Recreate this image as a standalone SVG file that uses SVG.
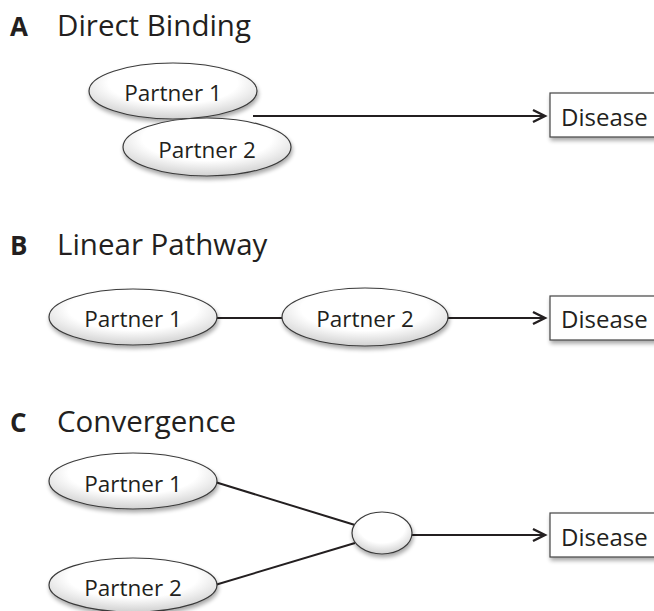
<svg xmlns="http://www.w3.org/2000/svg" width="654" height="611" viewBox="0 0 654 611">
<style>
.title{font-family:"Open Sans","Noto Sans",sans-serif;font-size:29.5px;fill:#231f20}
.letter{font-family:"Open Sans","Noto Sans",sans-serif;font-size:26px;font-weight:bold;fill:#231f20}
.lbl{font-family:"Open Sans","Noto Sans",sans-serif;font-size:22.5px;fill:#231f20;text-anchor:middle}
.dis{font-family:"Open Sans","Noto Sans",sans-serif;font-size:24px;fill:#231f20}
.node{fill:url(#eg);stroke:#3a3a3a;stroke-width:1.2;filter:url(#sh)}
.box{fill:#fff;stroke:#444;stroke-width:1.2;filter:url(#sh)}
.edge{stroke:#231f20;stroke-width:2;fill:none}
.arrow{marker-end:url(#ah)}
</style>
<defs>
<radialGradient id="eg" cx="0.5" cy="0.35" r="0.7">
<stop offset="0.55" stop-color="#ffffff"/>
<stop offset="1" stop-color="#c8c8c8"/>
</radialGradient>
<filter id="sh" x="-20%" y="-20%" width="140%" height="160%">
<feGaussianBlur in="SourceAlpha" stdDeviation="2"/>
<feOffset dx="1" dy="3" result="b"/>
<feComponentTransfer><feFuncA type="linear" slope="0.35"/></feComponentTransfer>
<feMerge><feMergeNode/><feMergeNode in="SourceGraphic"/></feMerge>
</filter>
<marker id="ah" markerWidth="18" markerHeight="16" refX="15" refY="8" orient="auto" markerUnits="userSpaceOnUse">
<path d="M3,2 L15,8 L3,14" fill="none" stroke="#231f20" stroke-width="2.4"/>
</marker>
</defs>

<g id="titles">
<text class="letter" x="10" y="36">A</text>
<text class="title" x="57" y="36">Direct Binding</text>
<text class="letter" x="10" y="255">B</text>
<text class="title" x="57" y="255">Linear Pathway</text>
<text class="letter" x="10" y="432">C</text>
<text class="title" x="57" y="432">Convergence</text>
</g>

<g id="connectors">
<line class="edge arrow" x1="253" y1="116" x2="545" y2="116"/>
<line class="edge" x1="217" y1="318" x2="282" y2="318"/>
<line class="edge arrow" x1="447" y1="318" x2="545" y2="318"/>
<line class="edge" x1="215" y1="482" x2="355" y2="525"/>
<line class="edge" x1="215" y1="585" x2="355" y2="543"/>
<line class="edge arrow" x1="412" y1="535" x2="545" y2="535"/>
</g>

<g id="a-partner1"><ellipse class="node" cx="173" cy="91" rx="84" ry="28"/><text class="lbl" x="173" y="101">Partner 1</text></g>
<g id="a-partner2"><ellipse class="node" cx="207" cy="147" rx="84" ry="29"/><text class="lbl" x="207" y="158">Partner 2</text></g>
<g id="a-disease"><rect class="box" x="550" y="93" width="120" height="44"/><text class="dis" x="561" y="126">Disease</text></g>

<g id="b-partner1"><ellipse class="node" cx="133" cy="317" rx="84" ry="28"/><text class="lbl" x="133" y="327">Partner 1</text></g>
<g id="b-partner2"><ellipse class="node" cx="365" cy="317" rx="83" ry="29"/><text class="lbl" x="365" y="327">Partner 2</text></g>
<g id="b-disease"><rect class="box" x="550" y="296" width="120" height="44"/><text class="dis" x="561" y="328">Disease</text></g>

<g id="c-partner1"><ellipse class="node" cx="133" cy="481" rx="84" ry="28"/><text class="lbl" x="133" y="492">Partner 1</text></g>
<g id="c-partner2"><ellipse class="node" cx="133" cy="585" rx="84" ry="27"/><text class="lbl" x="133" y="596">Partner 2</text></g>
<g id="c-complex"><ellipse class="node" cx="382" cy="533" rx="30" ry="21"/></g>
<g id="c-disease"><rect class="box" x="550" y="513" width="120" height="44"/><text class="dis" x="561" y="546">Disease</text></g>
</svg>
